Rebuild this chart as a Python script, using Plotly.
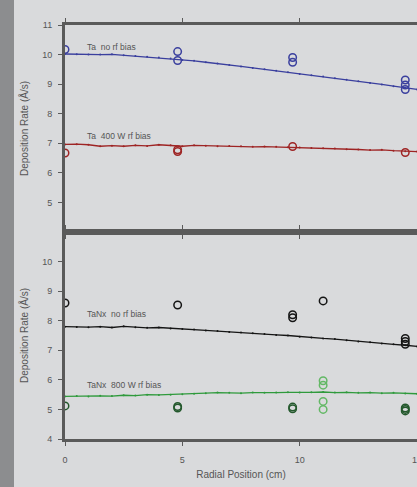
import plotly.graph_objects as go

# ---- data ----
x_line = [0, 0.5, 1, 1.5, 2, 2.5, 3, 3.5, 4, 4.5, 5, 5.5, 6, 6.5, 7, 7.5, 8, 8.5, 9, 9.5,
          10, 10.5, 11, 11.5, 12, 12.5, 13, 13.5, 14, 14.5, 15]
ta_norf_line = [10.02, 10.01, 10.0, 10.0, 10.01, 9.98, 9.95, 9.93, 9.9, 9.87, 9.82, 9.79, 9.74, 9.7,
                9.65, 9.6, 9.55, 9.5, 9.45, 9.4, 9.34, 9.3, 9.26, 9.2, 9.15, 9.1, 9.04, 8.99, 8.93,
                8.88, 8.82]
ta_400_line = [6.96, 6.97, 6.95, 6.9, 6.92, 6.9, 6.93, 6.91, 6.95, 6.93, 6.9, 6.93, 6.92, 6.9, 6.91,
               6.9, 6.88, 6.89, 6.88, 6.87, 6.86, 6.84, 6.83, 6.82, 6.8, 6.79, 6.77, 6.78, 6.75, 6.73,
               6.72]
tanx_norf_line = [7.8, 7.79, 7.78, 7.8, 7.77, 7.81, 7.78, 7.76, 7.77, 7.74, 7.72, 7.7, 7.67, 7.65,
                  7.62, 7.6, 7.58, 7.55, 7.52, 7.5, 7.46, 7.43, 7.4, 7.38, 7.34, 7.3, 7.27, 7.23,
                  7.2, 7.17, 7.13]
tanx_800_line = [5.44, 5.45, 5.44, 5.46, 5.45, 5.48, 5.47, 5.5, 5.49, 5.5, 5.51, 5.53, 5.55, 5.57,
                 5.56, 5.55, 5.57, 5.56, 5.57, 5.58, 5.57, 5.58, 5.59, 5.57, 5.58, 5.56, 5.57,
                 5.55, 5.56, 5.54, 5.53]

ta_norf_pts_x = [0, 4.8, 4.8, 9.7, 9.7, 14.5, 14.5, 14.5]
ta_norf_pts_y = [10.17, 10.1, 9.8, 9.9, 9.74, 9.14, 8.97, 8.82]
ta_400_pts_x = [0, 4.8, 4.8, 9.7, 14.5]
ta_400_pts_y = [6.67, 6.78, 6.72, 6.89, 6.69]
tanx_norf_pts_x = [0, 4.8, 9.7, 9.7, 11.0, 14.5, 14.5, 14.5]
tanx_norf_pts_y = [8.6, 8.53, 8.2, 8.1, 8.67, 7.4, 7.3, 7.2]
tanx_800_pts_x = [0, 4.8, 4.8, 9.7, 9.7, 14.5, 14.5, 14.5]
tanx_800_pts_y = [5.12, 5.1, 5.05, 5.08, 5.02, 5.05, 5.0, 4.95]
tanx_800b_pts_x = [11.0, 11.0, 11.0, 11.0]
tanx_800b_pts_y = [5.97, 5.82, 5.27, 5.0]

y_ticks_top = [5, 6, 7, 8, 9, 10, 11]
y_ticks_bot = [4, 5, 6, 7, 8, 9, 10]
x_ticks = [0, 5, 10, 15]

labels = ["Ta  no rf bias", "Ta  400 W rf bias", "TaNx  no rf bias", "TaNx  800 W rf bias"]
label_y = [10.26, 7.25, 8.23, 5.83]

BLUE = "#3a3f9e"
RED = "#9e2424"
BLACK = "#151515"
GREEN = "#2f9a3c"
DKGREEN = "#23582c"
LTGREEN = "#63b865"
TXT = "#555555"
BG = "#d9dadc"

fig = go.Figure()

def line(xv, yv, color, ax):
    fig.add_trace(go.Scatter(x=xv, y=yv, mode="lines+markers", line=dict(color=color, width=1.3),
                             marker=dict(size=2, color=color), xaxis=ax[0], yaxis=ax[1],
                             showlegend=False, hoverinfo="skip"))

def pts(xv, yv, color, ax):
    fig.add_trace(go.Scatter(x=xv, y=yv, mode="markers",
                             marker=dict(size=7.5, symbol="circle-open", color=color, line=dict(width=1.5, color=color)),
                             xaxis=ax[0], yaxis=ax[1], showlegend=False))

top = ("x", "y")
bot = ("x2", "y2")
line(x_line, ta_norf_line, BLUE, top)
line(x_line, ta_400_line, RED, top)
pts(ta_norf_pts_x, ta_norf_pts_y, BLUE, top)
pts(ta_400_pts_x, ta_400_pts_y, RED, top)
line(x_line, tanx_norf_line, BLACK, bot)
line(x_line, tanx_800_line, GREEN, bot)
pts(tanx_norf_pts_x, tanx_norf_pts_y, BLACK, bot)
pts(tanx_800_pts_x, tanx_800_pts_y, DKGREEN, bot)
pts(tanx_800b_pts_x, tanx_800b_pts_y, LTGREEN, bot)

for i, (t, yy) in enumerate(zip(labels, label_y)):
    fig.add_annotation(x=0.85, y=yy, text=t, showarrow=False, xanchor="left", yanchor="middle",
                       xref="x" if i < 2 else "x2", yref="y" if i < 2 else "y2",
                       font=dict(size=8.5, color=TXT, family="Liberation Sans, Arial"))

axis_common = dict(showline=True, mirror="ticks", linecolor="#5a5a5a", linewidth=3, showgrid=False,
                   zeroline=False, ticks="outside", ticklen=4, tickcolor="#5a5a5a", automargin=False,
                   ticklabeloverflow="allow", tickfont=dict(size=9, color=TXT))

fig.update_layout(
    width=417, height=487,
    margin=dict(l=65, r=0, t=25, b=48, autoexpand=False),
    paper_bgcolor=BG, plot_bgcolor=BG,
    font=dict(family="Liberation Sans, Arial", color=TXT),
    xaxis=dict(domain=[0, 1], range=[0, 15], tickvals=x_ticks, showticklabels=False, anchor="y", **axis_common),
    yaxis=dict(domain=[0.5, 1], range=[4, 11], tickvals=y_ticks_top, anchor="x", ticklabelstandoff=4,
               title=dict(text="Deposition Rate (Å/s)", font=dict(size=10, color=TXT), standoff=12), **axis_common),
    xaxis2=dict(domain=[0, 1], range=[0, 15], tickvals=x_ticks, anchor="y2", ticklabelstandoff=6,
                title=dict(text="Radial Position (cm)", font=dict(size=10, color=TXT), standoff=8), **axis_common),
    yaxis2=dict(domain=[0, 0.5], range=[4, 11], tickvals=y_ticks_bot, anchor="x2", ticklabelstandoff=4,
                title=dict(text="Deposition Rate (Å/s)", font=dict(size=10, color=TXT), standoff=12), **axis_common),
)

fig.add_shape(type="rect", xref="paper", yref="paper", x0=-65 / 352, x1=-51 / 352, y0=-48 / 414, y1=439 / 414,
              fillcolor="#8c8d8f", line=dict(width=0), layer="below")

js = (
    "document.documentElement.style.margin='0';document.body.style.margin='0';"
    "document.documentElement.style.overflow='hidden';document.body.style.overflow='hidden';"
)

fig.write_html("out.html", config={"displayModeBar": False}, post_script=js)
